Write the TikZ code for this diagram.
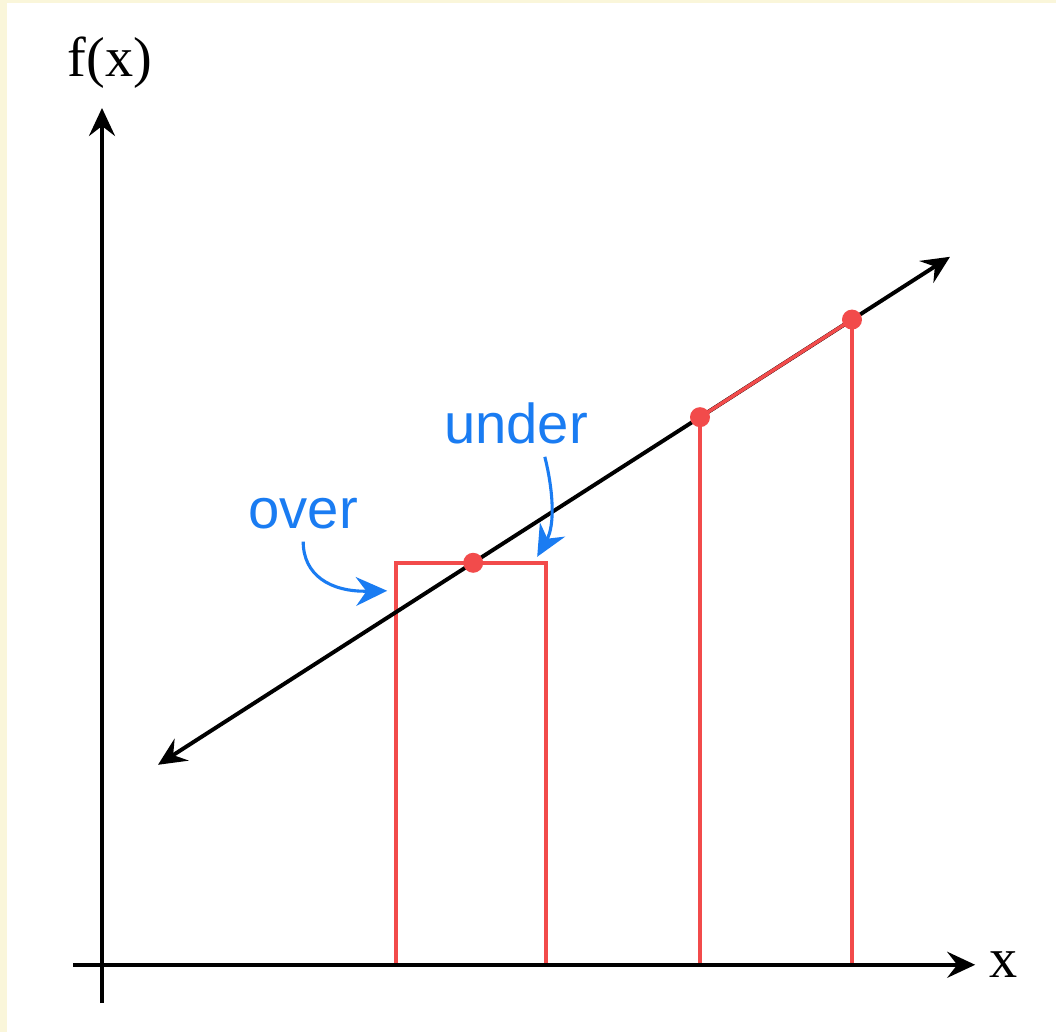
\documentclass[tikz,border=0pt]{standalone}
\usepackage{fontspec}
\setmainfont{Liberation Serif}
\setsansfont{Liberation Sans}
\usepackage{xcolor}
\usepackage{tikz}
\usetikzlibrary{arrows.meta}
\definecolor{PlotRed}{HTML}{F24B4B}
\definecolor{PlotBlue}{HTML}{1A7CF2}
\definecolor{PlotPaper}{HTML}{FAF6DA}

\begin{document}
\begin{tikzpicture}[x=1cm,y=1cm,
  axisline/.style={line width=2.8pt,-{Stealth[length=0.7cm,width=0.65cm,inset=0.25cm]}},
  bothline/.style={line width=2.8pt,{Stealth[length=0.7cm,width=0.65cm,inset=0.25cm]}-{Stealth[length=0.7cm,width=0.65cm,inset=0.25cm]}},
  redline/.style={PlotRed,line width=2.5pt},
  blueline/.style={PlotBlue,line width=2.2pt,-{Stealth[length=0.78cm,width=0.72cm,inset=0.26cm]}},
  axislabel/.style={inner sep=0pt,font=\fontsize{40}{48}\selectfont},
  bluelabel/.style={PlotBlue,inner sep=0.3cm,anchor=base,font=\sffamily\fontsize{40}{48}\selectfont}]
\path[use as bounding box] (0,0) rectangle (26.40,25.80);
\fill[white] (0,0) rectangle (26.40,25.80);
\fill[PlotPaper] (0,0) rectangle (0.18,25.80);
\fill[PlotPaper] (0,25.72) rectangle (26.40,25.80);
\coordinate (ybot) at (2.55,0.72);
\coordinate (ytop) at (2.55,23.10);
\coordinate (xleft) at (1.83,1.68);
\coordinate (xright) at (24.38,1.68);
\coordinate (lineA) at (3.95,6.68);
\coordinate (lineB) at (23.75,19.38);
\coordinate (dotA) at (11.83,11.73);
\coordinate (dotB) at (17.50,15.37);
\coordinate (dotC) at (21.30,17.81);
\coordinate (rectL) at (9.90,1.68);
\coordinate (rectR) at (13.65,1.68);
\coordinate (footB) at (17.50,1.68);
\coordinate (footC) at (21.30,1.68);
\coordinate (overtip) at (9.68,11.03);
\coordinate (undertip) at (13.43,11.88);
\draw[redline] (rectL) |- (dotA) -| (rectR);
\draw[redline] (footB) -- (dotB) -- (dotC) -- (footC);
\draw[axisline] (ybot) -- (ytop);
\draw[axisline] (xleft) -- (xright);
\draw[bothline] (lineA) -- (lineB);
\draw[redline] (dotB) -- (dotC);
\fill[PlotRed] (dotA) circle (0.25);
\fill[PlotRed] (dotB) circle (0.25);
\fill[PlotRed] (dotC) circle (0.25);
\node[axislabel] (fx) at (2.75,24.23) {f(x)};
\node[axislabel,anchor=west] (xl) at (24.73,1.68) {x};
\node[bluelabel] (over) at (7.58,12.58) {over};
\node[bluelabel] (under) at (12.90,14.70) {under};
\draw[blueline] (over.south) .. controls (7.58,11.43) and (8.25,11.00) .. (overtip);
\draw[blueline] ([xshift=0.72cm]under.south) .. controls (13.83,13.55) and (13.88,12.68) .. (undertip);
\end{tikzpicture}
\end{document}
